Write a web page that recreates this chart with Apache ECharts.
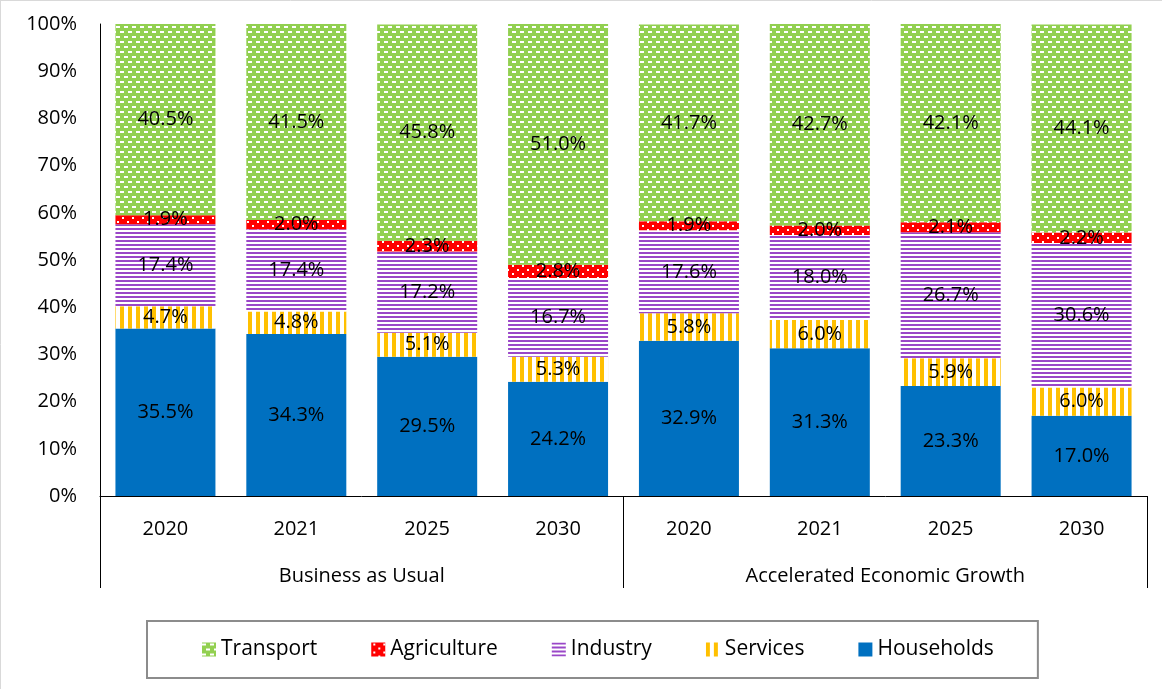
<!DOCTYPE html>
<html>
<head>
<meta charset="utf-8">
<script src="https://cdn.jsdelivr.net/npm/echarts@6/dist/echarts.min.js"></script>
<style>
  html, body { margin: 0; padding: 0; background: #fff; }
  #chart { width: 1162px; height: 689px; }
</style>
</head>
<body>
<div id="chart"></div>
<script>
// Scenario years and groupings
const years = ['2020', '2021', '2025', '2030', '2020', '2021', '2025', '2030'];
const scenarios = ['Business as Usual', 'Accelerated Economic Growth'];

// Sector shares (%) — BAU 2020..2030, then AEG 2020..2030
const households  = [35.5, 34.3, 29.5, 24.2, 32.9, 31.3, 23.3, 17.0];
const services    = [4.7, 4.8, 5.1, 5.3, 5.8, 6.0, 5.9, 6.0];
const industry    = [17.4, 17.4, 17.2, 16.7, 17.6, 18.0, 26.7, 30.6];
const agriculture = [1.9, 2.0, 2.3, 2.8, 1.9, 2.0, 2.1, 2.2];
const transport   = [40.5, 41.5, 45.8, 51.0, 41.7, 42.7, 42.1, 44.1];

const FONT = 'Open Sans';

// Small repeating canvas tiles used as pattern fills
function tile(w, h, bg, draw) {
  const c = document.createElement('canvas');
  c.width = w; c.height = h;
  const g = c.getContext('2d');
  g.fillStyle = bg; g.fillRect(0, 0, w, h);
  g.fillStyle = '#ffffff';
  draw(g);
  return { image: c, repeat: 'repeat' };
}
const transportFill = tile(8, 10, '#92D050', g => {
  g.fillRect(0, 1, 4, 2);
  g.fillRect(4, 6, 4, 2);
});
const agricultureFill = tile(10, 8, '#FF0000', g => {
  g.fillRect(2, 1, 2, 2);
  g.fillRect(7, 5, 2, 2);
});
const industryFill = tile(4, 4, '#ffffff', g => {
  g.fillStyle = '#9A47C8';
  g.fillRect(0, 0, 4, 2);
});
const servicesFill = tile(8, 4, '#ffffff', g => {
  g.fillStyle = '#FFC000';
  g.fillRect(0, 0, 4, 4);
});

function barSeries(name, data, fill) {
  return {
    name: name,
    type: 'bar',
    stack: 'total',
    barWidth: 100,
    data: data,
    itemStyle: { color: fill },
    label: {
      show: true,
      position: 'inside',
      color: '#000',
      fontFamily: FONT,
      fontSize: 20,
      formatter: p => p.value.toFixed(1) + '%'
    },
    emphasis: { disabled: true }
  };
}

const chart = echarts.init(document.getElementById('chart'), null, { renderer: 'canvas' });
chart.setOption({
  animation: false,
  backgroundColor: '#fff',
  textStyle: { fontFamily: FONT },
  grid: { left: 100, right: 15, top: 24, bottom: 193 },
  xAxis: [
    {
      type: 'category',
      data: years,
      position: 'bottom',
      axisLine: { show: true, lineStyle: { color: '#000', width: 1 } },
      axisTick: { show: false },
      axisLabel: { color: '#000', fontFamily: FONT, fontSize: 20, margin: 23, interval: 0 }
    },
    {
      type: 'category',
      data: scenarios,
      position: 'bottom',
      axisLine: { show: false },
      axisTick: { show: true, length: 92, interval: 0, lineStyle: { color: '#000', width: 1 } },
      axisLabel: { color: '#000', fontFamily: FONT, fontSize: 20, margin: 70, interval: 0 }
    }
  ],
  yAxis: {
    type: 'value',
    min: 0,
    max: 100,
    interval: 10,
    axisLine: { show: true, lineStyle: { color: '#000', width: 1 } },
    axisTick: { show: false },
    splitLine: { show: false },
    axisLabel: { color: '#000', fontFamily: FONT, fontSize: 20, margin: 23, formatter: '{value}%' }
  },
  legend: {
    data: ['Transport', 'Agriculture', 'Industry', 'Services', 'Households'],
    left: 147,
    top: 621,
    padding: [18, 44, 18, 55],
    itemGap: 54,
    itemWidth: 14,
    itemHeight: 14,
    icon: 'rect',
    borderColor: '#8c8c8c',
    borderWidth: 2,
    textStyle: { color: '#000', fontFamily: FONT, fontSize: 21 }
  },
  graphic: [
    { type: 'line', shape: { x1: 0.5, y1: 0, x2: 0.5, y2: 689 }, style: { stroke: '#d9d9d9', lineWidth: 1 } },
    { type: 'line', shape: { x1: 0, y1: 0.5, x2: 1162, y2: 0.5 }, style: { stroke: '#d9d9d9', lineWidth: 1 } }
  ],
  series: [
    barSeries('Households', households, '#0070C0'),
    barSeries('Services', services, servicesFill),
    barSeries('Industry', industry, industryFill),
    barSeries('Agriculture', agriculture, agricultureFill),
    barSeries('Transport', transport, transportFill)
  ]
});
</script>
</body>
</html>
